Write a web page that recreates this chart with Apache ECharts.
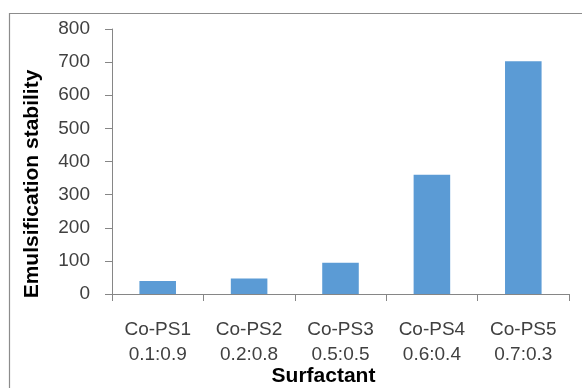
<!DOCTYPE html>
<html><head><meta charset="utf-8">
<script src="https://cdn.jsdelivr.net/npm/echarts@6/dist/echarts.min.js"></script>
<style>html,body{margin:0;padding:0;background:#fff}#c{width:582px;height:388px}</style>
</head><body><div id="c"></div>
<script>
var categories = ['Co-PS1\n0.1:0.9','Co-PS2\n0.2:0.8','Co-PS3\n0.5:0.5','Co-PS4\n0.6:0.4','Co-PS5\n0.7:0.3'];
var values = [39, 47, 94, 360, 703];
var yTicks = [0, 100, 200, 300, 400, 500, 600, 700, 800];
var xTitle = 'Surfactant';
var yTitle = 'Emulsification stability';
var FONT = 'Liberation Sans';
var chart = echarts.init(document.getElementById('c'), null, {renderer:'canvas'});
chart.setOption({
  animation:false,
  backgroundColor:'#fff',
  graphic:[
    {type:'rect', shape:{x:9.5,y:13.5,width:600,height:400}, style:{fill:'none', stroke:'#8c8c8c', lineWidth:1.2}, z:-1},
    {type:'text', x:323.5, y:376, style:{text:xTitle, font:'bold 21px "Liberation Sans"', fill:'#000', textAlign:'center', textVerticalAlign:'middle'}},
    {type:'text', x:32.5, y:184, rotation:Math.PI/2, style:{text:yTitle, font:'bold 21px "Liberation Sans"', fill:'#000', textAlign:'center', textVerticalAlign:'middle'}}
  ],
  grid:{left:112, right:13, top:29, bottom:94},
  xAxis:{
    type:'category', data:categories,
    axisLine:{lineStyle:{color:'#868686'}},
    axisTick:{show:true, length:7, lineStyle:{color:'#868686'}},
    axisLabel:{fontFamily:FONT, fontSize:19, color:'#404040', margin:23, lineHeight:25}
  },
  yAxis:{
    type:'value', min:yTicks[0], max:yTicks[yTicks.length-1], interval:100,
    axisLine:{show:true, lineStyle:{color:'#868686'}},
    axisTick:{show:true, length:7, lineStyle:{color:'#868686'}},
    splitLine:{show:false},
    axisLabel:{fontFamily:FONT, fontSize:19, color:'#404040', margin:22}
  },
  series:[{type:'bar', data:values, barWidth:'40%', itemStyle:{color:'#5B9BD5'}}]
});
</script></body></html>
